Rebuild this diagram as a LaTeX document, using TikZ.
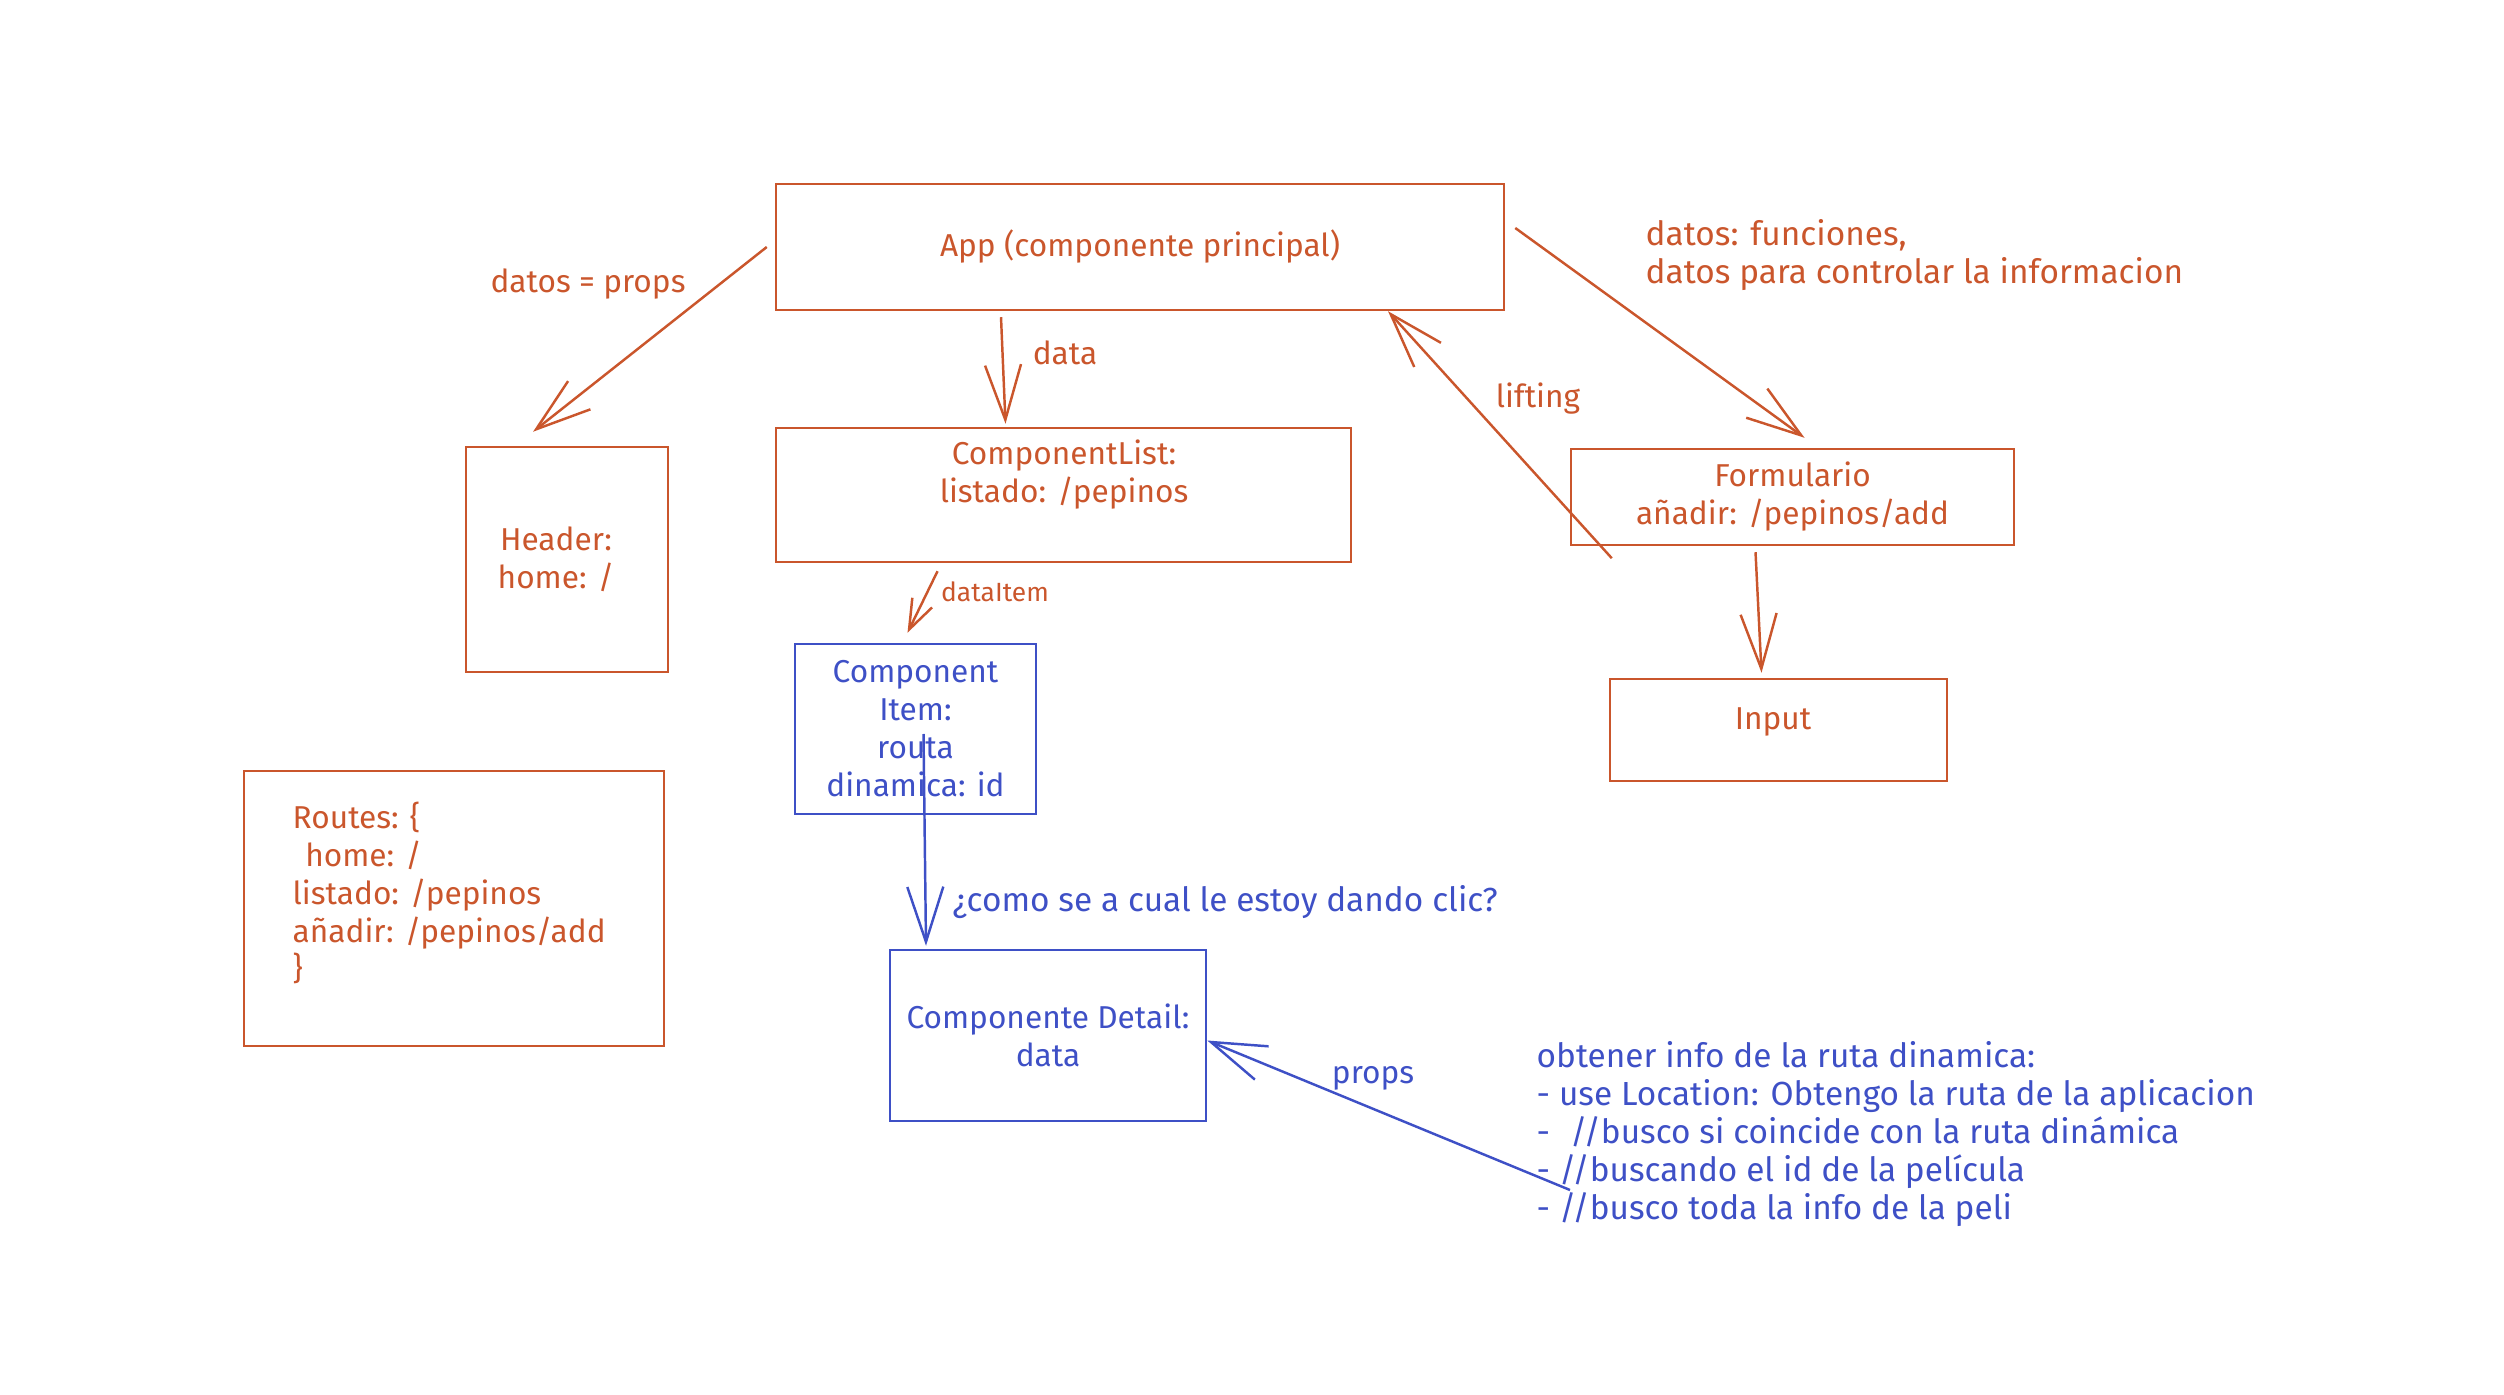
\documentclass[tikz,border=0pt]{standalone}
\usepackage{fontspec}
\setmainfont{Fira Sans}
\usetikzlibrary{calc,positioning,arrows.meta}
\definecolor{SketchOrange}{RGB}{202,86,44}
\definecolor{SketchBlue}{RGB}{62,80,198}
\tikzset{
    orbox/.style={rectangle,draw=SketchOrange,line width=0.7pt,text=SketchOrange,align=center,inner sep=0pt},
    blbox/.style={rectangle,draw=SketchBlue,line width=0.7pt,text=SketchBlue,align=center,inner sep=0pt},
    ortext/.style={text=SketchOrange,align=left,inner sep=0pt},
    bltext/.style={text=SketchBlue,align=left,inner sep=0pt},
    widetext/.style={font=\fontsize{9.5}{10.8}\selectfont},
    orflow/.style={line width=0.7pt,SketchOrange,-{Straight Barb[length=5.5mm,width=3.6mm]}},
    orsmall/.style={line width=0.7pt,SketchOrange,-{Straight Barb[length=3mm,width=2.2mm]}},
    blflow/.style={line width=0.7pt,SketchBlue,-{Straight Barb[length=5.5mm,width=3.6mm]}}
}
\begin{document}
\begin{tikzpicture}[font=\fontsize{9}{10.8}\selectfont]
		\useasboundingbox (0,0) rectangle (25.04,13.94);
		% boxes
		\node[orbox,minimum width=7.28cm,minimum height=1.26cm] (app) at (11.40,11.47) {App (componente principal)};
		\node[orbox,minimum width=5.75cm,minimum height=1.34cm] (list) at (10.635,8.99) {};
		\node[ortext,align=center] (listtxt) at (10.64,9.19) {ComponentList:\\listado: /pepinos};
		\node[orbox,minimum width=2.02cm,minimum height=2.25cm] (header) at (5.67,8.345) {};
		\node[ortext,align=center] (headertxt) at (5.56,8.35) {Header:\\home: /};
		\node[orbox,minimum width=4.43cm,minimum height=0.96cm] (form) at (17.925,8.97) {Formulario\\añadir: /pepinos/add};
		\node[orbox,minimum width=3.37cm,minimum height=1.02cm] (input) at (17.785,6.64) {};
		\node[ortext] (inputtxt) at (17.73,6.72) {Input};
		\node[blbox,minimum width=2.41cm,minimum height=1.70cm] (item) at (9.155,6.65) {Component\\Item:\\routa\\dinamica: id};
		\node[orbox,minimum width=4.20cm,minimum height=2.75cm] (routes) at (4.54,4.855) {};
		\node[ortext,anchor=west] (routestxt) at (2.92,5.01) {Routes: \{\\\hspace*{0.4em}home: /\\listado: /pepinos\\añadir: /pepinos/add\\\}};
		\node[blbox,minimum width=3.16cm,minimum height=1.71cm] (detail) at (10.48,3.585) {Componente Detail:\\data};
		% labels
		\node[ortext] (propslbl) at (5.88,11.10) {datos = props};
		\node[ortext] (datalbl) at (10.65,10.41) {data};
		\node[ortext,font=\fontsize{7.5}{8}\selectfont] (itemlbl) at (9.95,8.02) {dataItem};
		\node[ortext] (liftlbl) at (15.38,9.95) {lifting};
		\node[ortext,widetext,anchor=west] (fnlbl) at (16.45,11.39) {datos: funciones,\\datos para controlar la informacion};
		\node[bltext,widetext,anchor=west] (cliclbl) at (9.52,4.92) {¿como se a cual le estoy dando clic?};
		\node[bltext] (propsblue) at (13.73,3.16) {props};
		\node[bltext,widetext,anchor=west] (notes) at (15.36,2.60) {obtener info de la ruta dinamica:\\- use Location: Obtengo la ruta de la aplicacion\\-\hspace*{0.6em}//busco si coincide con la ruta dinámica\\- //buscando el id de la película\\- //busco toda la info de la peli};
		\coordinate (propsfrom) at (15.70,2.04);
		% connectors
		\draw[orflow] ([xshift=-0.08cm]app.west) -- ([xshift=-0.34cm,yshift=0.14cm]header.north);
		\draw[orflow] ([xshift=-1.39cm,yshift=-0.06cm]app.south) -- ([xshift=-0.58cm,yshift=0.03cm]list.north);
		\draw[orflow] ([xshift=0.1cm,yshift=0.19cm]app.east) -- ([xshift=0.12cm,yshift=0.1cm]form.north);
		\draw[orflow] ([xshift=0.42cm,yshift=-0.12cm]form.south west) -- ([xshift=2.48cm]app.south);
		\draw[orsmall] ([xshift=-1.26cm,yshift=-0.08cm]list.south) -- ([xshift=-0.08cm,yshift=0.10cm]item.north);
		\draw[orflow] ([xshift=-0.37cm,yshift=-0.06cm]form.south) -- ([xshift=-0.17cm,yshift=0.05cm]input.north);
		\draw[blflow] ([xshift=0.08cm,yshift=-0.05cm]item.center) -- ([xshift=-1.22cm,yshift=0.03cm]detail.north);
		\draw[blflow] (propsfrom) -- ([yshift=-0.05cm]detail.east);
\end{tikzpicture}
\end{document}
